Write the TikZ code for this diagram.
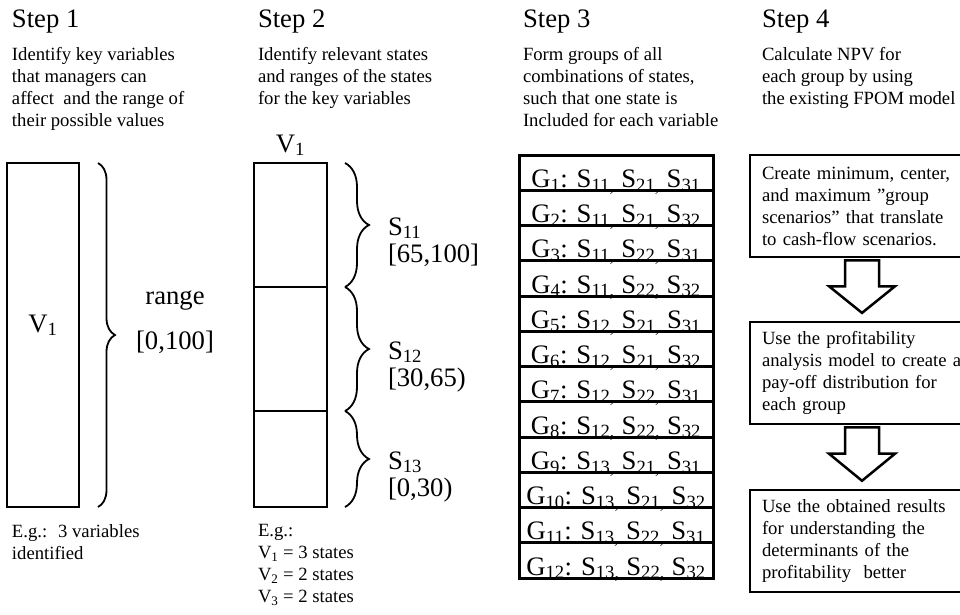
\documentclass[tikz,border=0pt]{standalone}
\usepackage{fontspec}
\setmainfont{Liberation Serif}
\usetikzlibrary{positioning,calc,decorations.pathreplacing}
\newcommand{\bodytxt}{\fontsize{18.67}{22}\selectfont}
\newcommand{\bigtxt}{\fontsize{26.67}{30}\selectfont}

\begin{document}
\begin{tikzpicture}[x=1pt, y=-1pt,
    every node/.style={inner sep=0pt, outer sep=0pt},
    title/.style={anchor=base west, font=\bigtxt},
    note/.style={anchor=north west, align=left, font=\bodytxt, execute at begin node=\strut},
    biglab/.style={anchor=base, font=\bigtxt},
    varbox/.style={draw, line width=2.5pt, anchor=north west},
    grpbox/.style={draw, line width=3pt, minimum width=194pt, minimum height=35.25pt, anchor=north west},
    stepbox/.style={draw, line width=2.5pt, text width=200pt, inner xsep=12pt, align=left,
        minimum height=102pt, anchor=north west, font=\bodytxt},
    brc/.style={decorate, decoration={brace, amplitude=#1}, line width=1.8pt},
    blockarr/.style={draw, line width=2.5pt, fill=white, line join=miter}]
    \useasboundingbox (0,0) rectangle (960,615);

    % Step 1
    \node[title] (t1) at (12,28) {Step 1};
    \node[note] (n1) at (12,47.6) {Identify key variables\\that managers can\\affect~ and the range of\\their possible values};
    \node[varbox, minimum width=72pt, minimum height=344pt] (v1) at (7,163) {};
    \node[biglab] (v1lab) at ([yshift=3pt]v1.center) {V\textsubscript{1}};
    \draw[brc=17pt] ([xshift=19pt]v1.north east) -- ([xshift=19pt]v1.south east);
    \coordinate (r1) at ([xshift=36pt]v1.east);
    \node[biglab] (rng) at ([shift={(60pt,31pt)}]r1) {range};
    \node[biglab] (rngval) at ([shift={(60pt,-14pt)}]r1) {[0,100]};
    \node[note] (e1) at (12,524.6) {E.g.:~ 3 variables\\identified};

    % Step 2
    \node[title] (t2) at (258,28) {Step 2};
    \node[note] (n2) at (258,47.6) {Identify relevant states\\and ranges of the states\\for the key variables};
    \node[varbox, minimum width=73pt, minimum height=124pt] (s11) at (254,163) {};
    \node[varbox, minimum width=73pt, minimum height=124pt, anchor=north] (s12) at (s11.south) {};
    \node[varbox, minimum width=73pt, minimum height=96pt, anchor=north] (s13) at (s12.south) {};
    \node[biglab] (v1top) at ([yshift=11pt]s11.north) {V\textsubscript{1}};
    \foreach \s/\rng in {11/{[65,100]}, 12/{[30,65)}, 13/{[0,30)}} {
        \draw[brc=24pt] ([xshift=18pt]s\s.north east) -- ([xshift=18pt]s\s.south east);
        \node[anchor=base west, font=\bigtxt] (lab\s) at ([shift={(61pt,-10pt)}]s\s.east) {S\textsubscript{\s}};
        \node[anchor=base west, font=\bigtxt] (rng\s) at ([shift={(61pt,-37pt)}]s\s.east) {\rng};
    }
    \node[note] (e2) at (258,524.6) {E.g.:\\V\textsubscript{1} = 3 states\\V\textsubscript{2} = 2 states\\V\textsubscript{3} = 2 states};

    % Step 3
    \node[title] (t3) at (523,28) {Step 3};
    \node[note] (n3) at (523,47.6) {Form groups of all\\combinations of states,\\such that one state is\\Included for each variable};
    \foreach \g/\a/\b/\c in {1/11/21/31, 2/11/21/32, 3/11/22/31, 4/11/22/32,
                             5/12/21/31, 6/12/21/32, 7/12/22/31, 8/12/22/32,
                             9/13/21/31, 10/13/21/32, 11/13/22/31, 12/13/22/32} {
        \node[grpbox] (g\g) at (519,{155+35.25*(\g-1)}) {};
        \node[biglab] (gt\g) at ([yshift=3pt]g\g.south)
            {G\textsubscript{\g}: S\textsubscript{\a,} S\textsubscript{\b,} S\textsubscript{\c}};
    }

    % Step 4
    \node[title] (t4) at (762,28) {Step 4};
    \node[note] (n4) at (762,47.6) {Calculate NPV for\\each group by using\\the existing FPOM model};
    \node[stepbox] (b1) at (750,155) {Create minimum, center,\\and maximum ''group\\scenarios'' that translate\\to cash-flow scenarios.};
    \node[stepbox] (b2) at (750,322) {Use the profitability\\analysis model to create a\\pay-off distribution for\\each group};
    \node[stepbox] (b3) at (750,490) {Use the obtained results\\for understanding the\\determinants of the\\profitability~ better};
    \foreach \p/\q in {b1/b2, b2/b3} {
        \coordinate (top) at ($(\p.south)!0.05!(\q.north)$);
        \coordinate (neck) at ($(\p.south)!0.45!(\q.north)$);
        \coordinate (tip) at ($(\p.south)!0.86!(\q.north)$);
        \draw[blockarr] ($(top)+(-17,0)$) -- ($(top)+(17,0)$) -- ($(neck)+(17,0)$) -- ($(neck)+(33,0)$)
            -- (tip) -- ($(neck)+(-33,0)$) -- ($(neck)+(-17,0)$) -- cycle;
    }
\end{tikzpicture}
\end{document}
